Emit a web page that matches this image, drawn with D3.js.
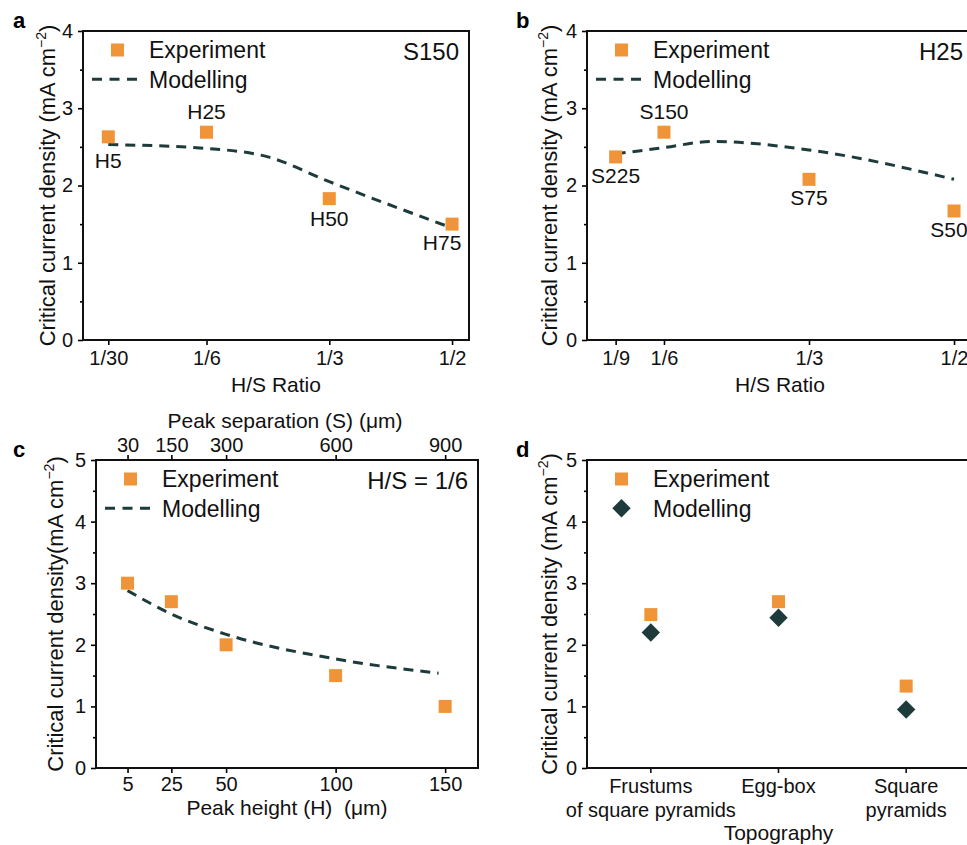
<!DOCTYPE html>
<html>
<head>
<meta charset="utf-8">
<script src="https://cdn.jsdelivr.net/npm/d3@7"></script>
<style>
  body { margin: 0; background: #fff; }
  svg { font-family: "Liberation Sans", Arial, sans-serif; }
</style>
</head>
<body>
<div id="my-chart"></div>
<script>
// panel a: S150, varying H
const ratioTicksA = [1/30, 1/6, 1/3, 1/2];
const ratioLabelsA = ["1/30", "1/6", "1/3", "1/2"];
const expA_x = [1/30, 1/6, 1/3, 1/2];
const expA_y = [2.63, 2.69, 1.83, 1.50];
const expA_lbl = ["H5", "H25", "H50", "H75"];
const modA_x = [1/30, 1/6, 0.25, 1/3, 0.5];
const modA_y = [2.53, 2.48, 2.37, 2.05, 1.45];

// panel b: H25, varying S
const ratioTicksB = [1/9, 1/6, 1/3, 1/2];
const ratioLabelsB = ["1/9", "1/6", "1/3", "1/2"];
const expB_x = [1/9, 1/6, 1/3, 1/2];
const expB_y = [2.37, 2.69, 2.08, 1.67];
const expB_lbl = ["S225", "S150", "S75", "S50"];
const modB_x = [1/9, 1/6, 0.222, 1/3, 0.5];
const modB_y = [2.41, 2.49, 2.57, 2.46, 2.08];

// panel c: H/S = 1/6
const heightTicks = [5, 25, 50, 100, 150];
const sepTicks = [30, 150, 300, 600, 900];
const expC_x = [5, 25, 50, 100, 150];
const expC_y = [3.0, 2.7, 2.0, 1.5, 1.0];
const modC_x = [5, 25, 50, 100, 147];
const modC_y = [2.88, 2.5, 2.17, 1.77, 1.54];

// panel d: topographies
const topoCats = ["Frustums", "Egg-box", "Square"];
const topoLines = [["Frustums", "of square pyramids"], ["Egg-box"], ["Square", "pyramids"]];
const expD_y = [2.49, 2.70, 1.33];
const modD_y = [2.20, 2.44, 0.95];

const orange = "#f0943a";
const dark = "#1e3b3c";

const svg = d3.select("#my-chart").append("svg")
    .attr("width", 967)
    .attr("height", 845);

function panel({x0, x1, y0, y1, xScale, yMax, letter, letterX, yLabel, yLabelOff, xTicks, xLabels, xPad, xTitle, xTitleOff, corner}) {
  const g = svg.append("g");
  const y = d3.scaleLinear().domain([0, yMax]).range([y1, y0]);

  // y axis: majors + minors
  g.append("g")
      .attr("transform", `translate(${x0},0)`)
      .call(d3.axisLeft(y).tickValues(d3.range(0, yMax + 1)).tickSize(5).tickPadding(5)
        .tickFormat(d3.format("d")))
      .call(a => a.select(".domain").remove())
      .call(a => a.selectAll("text").attr("font-size", 20).attr("fill", "#111"))
      .call(a => a.selectAll("line").attr("stroke-width", 1.6));
  g.append("g")
      .attr("transform", `translate(${x0},0)`)
      .call(d3.axisLeft(y).tickValues(d3.range(0.5, yMax, 1)).tickSize(3).tickFormat(""))
      .call(a => a.select(".domain").remove())
      .call(a => a.selectAll("line").attr("stroke-width", 1.6));

  if (xTicks) {
    g.append("g")
        .attr("transform", `translate(0,${y1})`)
        .call(d3.axisBottom(xScale).tickValues(xTicks).tickSize(5).tickPadding(xPad)
          .tickFormat((d, i) => xLabels[i]))
        .call(a => a.select(".domain").remove())
        .call(a => a.selectAll("text").attr("font-size", 20).attr("fill", "#111"))
        .call(a => a.selectAll("line").attr("stroke-width", 1.6));
  }

  g.append("rect")
      .attr("x", x0).attr("y", y0)
      .attr("width", x1 - x0).attr("height", y1 - y0)
      .attr("fill", "none").attr("stroke", "#111").attr("stroke-width", 2);

  g.append("text")
      .attr("x", letterX).attr("y", y0 - 3)
      .attr("font-size", 22).attr("font-weight", "bold")
      .text(letter);

  const yl = g.append("text")
      .attr("transform", `translate(${x0 - yLabelOff},${(y0 + y1) / 2}) rotate(-90)`)
      .attr("text-anchor", "middle")
      .attr("font-size", 22).attr("fill", "#111")
      .text(yLabel);
  yl.append("tspan").attr("font-size", 14).attr("dy", -9).text("−2");
  yl.append("tspan").attr("dy", 9).text(")");

  if (xTitle) {
    g.append("text")
        .attr("x", (x0 + x1) / 2).attr("y", y1 + xTitleOff)
        .attr("text-anchor", "middle")
        .attr("font-size", 21).attr("fill", "#111")
        .text(xTitle);
  }

  if (corner) {
    g.append("text")
        .attr("x", x1 - 10).attr("y", y0 + 29)
        .attr("text-anchor", "end")
        .attr("font-size", 24).attr("fill", "#111")
        .text(corner);
  }

  // legend
  g.append("rect")
      .attr("x", x0 + 34.5 - 6.5).attr("y", y0 + 19 - 6.5)
      .attr("width", 13).attr("height", 13).attr("fill", orange);
  g.append("text")
      .attr("x", x0 + 66).attr("y", y0 + 27)
      .attr("font-size", 23).attr("fill", "#111")
      .text("Experiment");
  g.append("text")
      .attr("x", x0 + 66).attr("y", y0 + 56.5)
      .attr("font-size", 23).attr("fill", "#111")
      .text("Modelling");

  return {g, y};
}

function squares(g, x, y, xs, ys) {
  g.append("g").selectAll("rect")
    .data(xs)
    .join("rect")
      .attr("x", (d, i) => x(d) - 6.5)
      .attr("y", (d, i) => y(ys[i]) - 6.5)
      .attr("width", 13).attr("height", 13)
      .attr("fill", orange);
}

function dashed(g, x, y, xs, ys) {
  const line = d3.line()
      .x(d => x(d[0])).y(d => y(d[1]))
      .curve(d3.curveMonotoneX);
  g.append("path")
      .attr("d", line(xs.map((d, i) => [d, ys[i]])))
      .attr("fill", "none").attr("stroke", dark)
      .attr("stroke-width", 3).attr("stroke-dasharray", "10,7");
}

function legendDash(g, x0, y0) {
  g.append("line")
      .attr("x1", x0 + 9).attr("x2", x0 + 54)
      .attr("y1", y0 + 48.3).attr("y2", y0 + 48.3)
      .attr("stroke", dark).attr("stroke-width", 3).attr("stroke-dasharray", "10,7.5");
}

function pointLabels(g, x, y, xs, ys, lbl, offs) {
  g.append("g").selectAll("text")
    .data(lbl)
    .join("text")
      .attr("x", (d, i) => x(xs[i]) + offs[i][0])
      .attr("y", (d, i) => y(ys[i]) + offs[i][1])
      .attr("text-anchor", "middle")
      .attr("font-size", 21).attr("fill", "#111")
      .text(d => d);
}

const yTitle = "Critical current density (mA cm";

// ---- a ----
{
  const x = d3.scaleLinear().domain([-0.001, 0.523]).range([83, 469]);
  const {g, y} = panel({x0: 83, x1: 469, y0: 31, y1: 340, xScale: x, yMax: 4, letter: "a", letterX: 13,
    yLabel: yTitle, yLabelOff: 28, xTicks: ratioTicksA, xLabels: ratioLabelsA, xPad: 6,
    xTitle: "H/S Ratio", xTitleOff: 52, corner: "S150"});
  legendDash(g, 83, 31);
  dashed(g, x, y, modA_x, modA_y);
  squares(g, x, y, expA_x, expA_y);
  pointLabels(g, x, y, expA_x, expA_y, expA_lbl, [[0, 31], [0, -13], [0, 27], [-10, 26]]);
}

// ---- b ----
{
  const x = d3.scaleLinear().domain([0.0782, 0.5218]).range([587, 973]);
  const {g, y} = panel({x0: 587, x1: 973, y0: 31, y1: 340, xScale: x, yMax: 4, letter: "b", letterX: 516,
    yLabel: yTitle, yLabelOff: 30, xTicks: ratioTicksB, xLabels: ratioLabelsB, xPad: 6,
    xTitle: "H/S Ratio", xTitleOff: 52, corner: "H25"});
  legendDash(g, 587, 31);
  dashed(g, x, y, modB_x, modB_y);
  squares(g, x, y, expB_x, expB_y);
  pointLabels(g, x, y, expB_x, expB_y, expB_lbl, [[0, 26], [0, -13], [0, 26], [-5, 26]]);
}

// ---- c ----
{
  const x = d3.scaleLinear().domain([-9.4, 165]).range([96, 478]);
  const {g, y} = panel({x0: 96, x1: 478, y0: 460, y1: 768, xScale: x, yMax: 5, letter: "c", letterX: 13,
    yLabel: "Critical current density(mA cm", yLabelOff: 33, xTicks: heightTicks,
    xLabels: heightTicks.map(String), xPad: 4, xTitle: "Peak height (H)\u00a0 (μm)", xTitleOff: 47,
    corner: "H/S = 1/6"});
  const xTop = d3.scaleLinear().domain(x.domain().map(d => d * 6)).range(x.range());
  g.append("g")
      .attr("transform", "translate(0,460)")
      .call(d3.axisTop(xTop).tickValues(sepTicks).tickSize(5).tickPadding(3))
      .call(a => a.select(".domain").remove())
      .call(a => a.selectAll("text").attr("font-size", 20).attr("fill", "#111"))
      .call(a => a.selectAll("line").attr("stroke-width", 1.6));
  g.append("text")
      .attr("x", 285).attr("y", 428)
      .attr("text-anchor", "middle")
      .attr("font-size", 21).attr("fill", "#111")
      .text("Peak separation (S) (μm)");
  legendDash(g, 96, 460);
  dashed(g, x, y, modC_x, modC_y);
  squares(g, x, y, expC_x, expC_y);
}

// ---- d ----
{
  const x = d3.scalePoint().domain(topoCats).range([587, 970]).padding(0.5);
  const {g, y} = panel({x0: 587, x1: 970, y0: 460, y1: 768, xScale: x, yMax: 5, letter: "d", letterX: 516,
    yLabel: yTitle, yLabelOff: 30, xTicks: null, corner: null});
  // category axis
  g.append("g").selectAll("line")
    .data(topoCats)
    .join("line")
      .attr("x1", d => x(d)).attr("x2", d => x(d))
      .attr("y1", 768).attr("y2", 773)
      .attr("stroke", "#111").attr("stroke-width", 1.6);
  g.append("g").selectAll("text")
    .data(topoCats)
    .join("text")
      .attr("text-anchor", "middle")
      .attr("font-size", 20).attr("fill", "#111")
      .each(function(d, i) {
        topoLines[i].forEach((t, k) => {
          d3.select(this).append("tspan")
            .attr("x", x(d)).attr("y", 793 + k * 24)
            .text(t);
        });
      });
  g.append("text")
      .attr("x", x("Egg-box")).attr("y", 840)
      .attr("text-anchor", "middle")
      .attr("font-size", 21).attr("fill", "#111")
      .text("Topography");

  const diamond = d3.symbol().type(d3.symbolSquare).size(169);
  g.append("path")
      .attr("d", diamond())
      .attr("transform", `translate(${587 + 34.5},${460 + 48.3}) rotate(45)`)
      .attr("fill", dark);
  squares(g, x, y, topoCats, expD_y);
  g.append("g").selectAll("path")
    .data(topoCats)
    .join("path")
      .attr("d", diamond())
      .attr("transform", (d, i) => `translate(${x(d)},${y(modD_y[i])}) rotate(45)`)
      .attr("fill", dark);
}
</script>
</body>
</html>
